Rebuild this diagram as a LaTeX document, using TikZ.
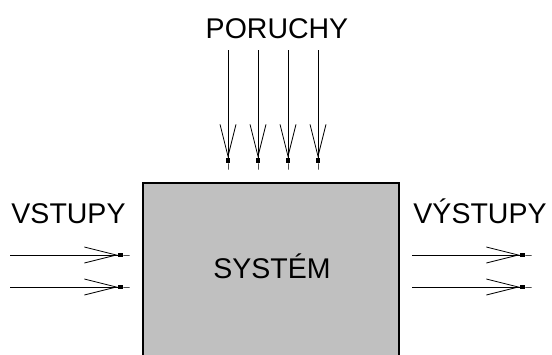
\documentclass[tikz,border=0pt]{standalone}
\usepackage{fontspec}
\setmainfont{Liberation Sans}
\usetikzlibrary{arrows.meta}
\definecolor{boxgray}{HTML}{C0C0C0}
\tikzset{
  label/.style={font=\fontsize{28.5}{30}\selectfont,anchor=base,inner sep=0pt},
  sysbox/.style={draw=black,fill=boxgray,line width=1.6pt,minimum width=256pt,minimum height=186pt,inner sep=0pt},
  signal/.style={line width=0.8pt,-{Straight Barb[length=32pt,width=16pt,line width=0.8pt]Square[length=5pt,width=3.5pt]Square[length=7pt,width=0.8pt]}}
}
\begin{document}
\begin{tikzpicture}[x=1pt,y=-1pt]
\useasboundingbox (0,0) rectangle (552,354);
% coordinates
\coordinate (d1a)   at (228, 50);
\coordinate (d1b)   at (228,170);
\coordinate (d2a)   at (258, 50);
\coordinate (d2b)   at (258,170);
\coordinate (d3a)   at (288, 50);
\coordinate (d3b)   at (288,170);
\coordinate (d4a)   at (318, 50);
\coordinate (d4b)   at (318,170);
\coordinate (in1a)  at ( 10,255);
\coordinate (in1b)  at (130,255);
\coordinate (in2a)  at ( 10,287);
\coordinate (in2b)  at (130,287);
\coordinate (out1a) at (412,255);
\coordinate (out1b) at (532,255);
\coordinate (out2a) at (412,287);
\coordinate (out2b) at (532,287);
% system
\node[sysbox] (system) at (271,276) {};
\node[label] (systext) at (272,278) {SYSTÉM};
% labels
\node[label] (poruchy) at (277, 38) {PORUCHY};
\node[label] (vstupy)  at (68.5,223) {VSTUPY};
\node[label] (vystupy) at (480,223) {VÝSTUPY};
% disturbances
\draw[signal] (d1a) -- (d1b);
\draw[signal] (d2a) -- (d2b);
\draw[signal] (d3a) -- (d3b);
\draw[signal] (d4a) -- (d4b);
% inputs
\draw[signal] (in1a) -- (in1b);
\draw[signal] (in2a) -- (in2b);
% outputs
\draw[signal] (out1a) -- (out1b);
\draw[signal] (out2a) -- (out2b);
\end{tikzpicture}
\end{document}
